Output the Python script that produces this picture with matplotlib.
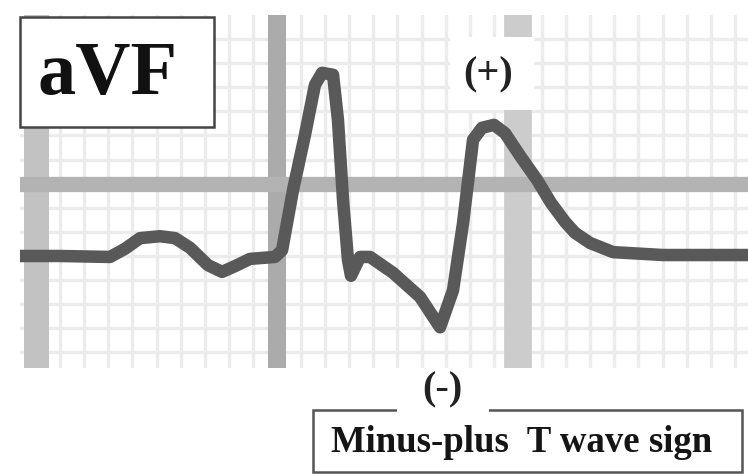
import matplotlib
matplotlib.use("Agg")
import matplotlib.pyplot as plt
from matplotlib.patches import Rectangle
import numpy as np

# Lead aVF trace: time (ms) and amplitude (mV)
time_ms = [-13.3, 19.9, 61.4, 73.9, 86.3, 102.9, 115.4, 127.8, 142.7, 154.4,
           165.2, 177.6, 198.3, 204.2, 213.3, 223.2, 231.5, 237.4, 246.5, 250.6,
           254.8, 258.9, 261.4, 268.9, 277.2, 296.3, 318.7, 335.3, 346.1, 354.4,
           362.7, 370.1, 380.1, 389.2, 402.5, 415.8, 427.4, 439.0, 447.3, 459.8,
           478.9, 520.3, 590.9]
amp_mv = [0.000, 0.000, -0.002, 0.015, 0.037, 0.041, 0.037, 0.017, -0.019, -0.033,
          -0.021, -0.006, -0.002, 0.012, 0.137, 0.251, 0.355, 0.380, 0.376, 0.282,
          0.116, -0.008, -0.041, -0.002, -0.002, -0.035, -0.085, -0.148, -0.071, 0.068,
          0.241, 0.266, 0.272, 0.255, 0.205, 0.158, 0.110, 0.071, 0.048, 0.027,
          0.008, 0.002, 0.002]

lead_label = "aVF"
plus_label = "(+)"
minus_label = "(-)"
caption = "Minus-plus  T wave sign"

# Paper grid (ms / mV)
major_t = [0, 200, 400]
major_v = [0.15]
minor_dt = 20
minor_dv = 0.05

W, H = 748, 474
fig = plt.figure(figsize=(W / 100, H / 100), dpi=100)
fig.patch.set_facecolor("white")

def fx(px):
    return px / W

def fy(py):
    return 1 - py / H

# ECG strip
ax = fig.add_axes([fx(20), fy(368), fx(748) - fx(20), fy(15) - fy(368)])
t0, t1 = -13.3, 590.9
v0, v1 = -0.2324, 0.5
ax.set_xlim(t0, t1)
ax.set_ylim(v0, v1)
ax.set_facecolor("white")
for s in ax.spines.values():
    s.set_visible(False)
ax.set_xticks([])
ax.set_yticks([])

minor_col = "#ececec"
for t in np.arange(0, t1, minor_dt):
    ax.axvline(t, color=minor_col, lw=2.4, zorder=1)
for t in np.arange(-minor_dt, t0, -minor_dt):
    ax.axvline(t, color=minor_col, lw=2.4, zorder=1)
for v in np.arange(major_v[0], v1, minor_dv):
    ax.axhline(v, color=minor_col, lw=2.4, zorder=1)
for v in np.arange(major_v[0], v0, -minor_dv):
    ax.axhline(v, color=minor_col, lw=2.4, zorder=1)

major_cols = ["#c2c2c2", "#ababab", "#cccccc"]
major_w = [18, 13, 20]
for t, c, w in zip(major_t, major_cols, major_w):
    ax.axvline(t, color=c, lw=w, zorder=2)
for v in major_v:
    ax.axhline(v, color="#b3b3b3", lw=11, zorder=2)

ax.plot(time_ms, amp_mv, color="#595959", lw=9, solid_joinstyle="round",
        solid_capstyle="round", zorder=5)

# Annotation layer in pixel coordinates
ov = fig.add_axes([0, 0, 1, 1])
ov.set_xlim(0, W)
ov.set_ylim(H, 0)
ov.axis("off")
ov.patch.set_alpha(0)

serif = ["Liberation Serif", "DejaVu Serif"]

ov.add_patch(Rectangle((20, 17), 194, 110, facecolor="white",
                       edgecolor="#444444", lw=1.8, zorder=10))
ov.text(108, 75, lead_label, family=serif, fontweight="bold", fontsize=55,
        ha="center", va="center", color="#111111", zorder=11)

ov.add_patch(Rectangle((450, 37), 84, 73, facecolor="white",
                       edgecolor="none", zorder=10))
ov.text(488, 75, plus_label, family=serif, fontweight="bold", fontsize=29,
        ha="center", va="center", color="#222222", zorder=11)

ov.add_patch(Rectangle((313, 410), 429, 62, facecolor="white",
                       edgecolor="#555555", lw=1.8, zorder=10))
ov.add_patch(Rectangle((397, 370), 92, 45, facecolor="white",
                       edgecolor="none", zorder=11))
ov.text(442, 390, minus_label, family=serif, fontweight="bold", fontsize=29,
        ha="center", va="center", color="#222222", zorder=12)
ov.text(522, 443, caption, family=serif, fontweight="bold", fontsize=26.5,
        ha="center", va="center", color="#151515", zorder=12)

fig.savefig("out.png", dpi=100, facecolor="white")
